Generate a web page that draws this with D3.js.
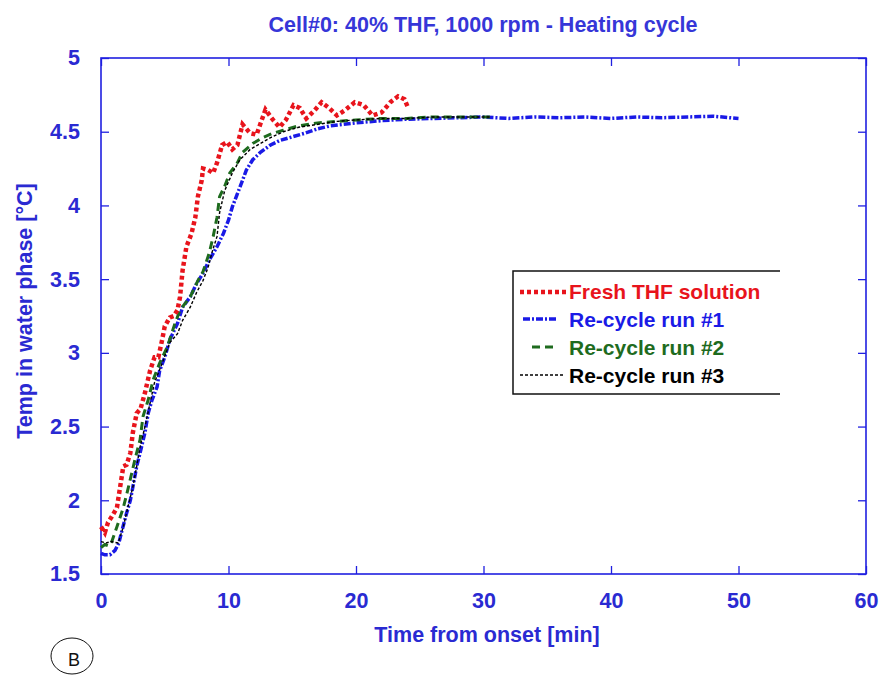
<!DOCTYPE html>
<html>
<head>
<meta charset="utf-8">
<script src="https://cdn.jsdelivr.net/npm/d3@7"></script>
<style>
    body { margin: 0; background: #ffffff; }
    svg { display: block; font-family: "Liberation Sans", Arial, sans-serif; }
</style>
</head>
<body>
<svg id="svg" width="881" height="675"></svg>
<script>
//Data
const TITLE = "Cell#0: 40% THF, 1000 rpm - Heating cycle";
const X_LABEL = "Time from onset [min]";
const Y_LABEL = "Temp in water phase [°C]";
const X_TICKS = [0, 10, 20, 30, 40, 50, 60];
const Y_TICKS = [1.5, 2, 2.5, 3, 3.5, 4, 4.5, 5];
const SERIES_NAMES = ["Fresh THF solution", "Re-cycle run #1", "Re-cycle run #2", "Re-cycle run #3"];

const FRESH_T = [0, 0.3, 0.55, 0.85, 1.25, 1.5, 1.75, 2.0, 2.3, 2.5, 2.8, 3.1, 3.45, 3.85, 4.2, 4.5, 4.8, 5.0, 5.4, 5.7, 6.0, 6.2, 6.4, 6.7, 7.1, 7.4, 7.6, 7.9, 8.0, 8.4, 8.8, 9.1, 9.5, 9.9, 10.3, 10.7, 11.1, 11.7, 12.2, 12.9, 13.4, 14.0, 14.5, 15.1, 15.6, 16.1, 16.7, 17.3, 17.9, 18.5, 19.2, 19.9, 20.6, 21.3, 22.0, 22.7, 23.3, 23.8, 24.1];
const FRESH_V = [1.82, 1.78, 1.85, 1.89, 1.95, 2.09, 2.23, 2.24, 2.32, 2.46, 2.59, 2.62, 2.73, 2.88, 2.97, 2.97, 3.09, 3.18, 3.24, 3.25, 3.29, 3.38, 3.56, 3.72, 3.81, 3.92, 4.06, 4.17, 4.25, 4.24, 4.22, 4.29, 4.41, 4.43, 4.38, 4.41, 4.55, 4.49, 4.48, 4.65, 4.59, 4.53, 4.58, 4.68, 4.66, 4.59, 4.64, 4.70, 4.66, 4.61, 4.65, 4.70, 4.68, 4.61, 4.63, 4.70, 4.74, 4.72, 4.66];

const RUN1_T = [0, 0.3, 0.7, 1.1, 1.4, 1.6, 2.0, 2.3, 2.5, 2.8, 3.06, 3.45, 3.7, 4.0, 4.4, 4.6, 5.0, 5.4, 6.0, 6.4, 7.0, 7.5, 8.0, 8.5, 9.1, 9.6, 10.0, 10.3, 10.7, 11.1, 11.4, 11.9, 12.5, 13.3, 14.0, 14.8, 16, 17, 18, 19, 20, 22, 24, 26, 28, 30, 32, 34, 36, 38, 40, 42, 44, 46, 48, 50];
const RUN1_V = [1.64, 1.63, 1.63, 1.66, 1.71, 1.78, 1.91, 2.0, 2.09, 2.23, 2.32, 2.46, 2.59, 2.68, 2.77, 2.88, 2.97, 3.09, 3.2, 3.31, 3.38, 3.47, 3.54, 3.63, 3.72, 3.81, 3.9, 3.99, 4.08, 4.17, 4.24, 4.31, 4.36, 4.41, 4.44, 4.46, 4.49, 4.52, 4.54, 4.55, 4.56, 4.575, 4.585, 4.59, 4.595, 4.60, 4.59, 4.60, 4.595, 4.60, 4.59, 4.60, 4.595, 4.60, 4.605, 4.59];

const RUN2_T = [0, 0.3, 0.6, 0.85, 1.25, 1.75, 2.1, 2.4, 2.7, 3.06, 3.3, 3.7, 4.1, 4.6, 5.2, 5.8, 6.2, 7.0, 7.6, 8.0, 8.5, 8.8, 9.1, 9.3, 9.7, 10.1, 10.7, 11.1, 11.9, 12.7, 13.5, 14.3, 15.5, 17, 18.5, 20, 22, 24, 26, 28, 30.5];
const RUN2_V = [1.68, 1.70, 1.69, 1.72, 1.82, 1.95, 2.07, 2.18, 2.29, 2.41, 2.57, 2.68, 2.82, 2.93, 3.04, 3.2, 3.29, 3.38, 3.49, 3.55, 3.68, 3.79, 3.92, 4.06, 4.13, 4.22, 4.29, 4.36, 4.42, 4.46, 4.49, 4.51, 4.54, 4.56, 4.57, 4.58, 4.59, 4.59, 4.60, 4.60, 4.60];

const RUN3_T = [0, 0.4, 0.8, 1.35, 1.75, 2.1, 2.5, 2.8, 3.06, 3.45, 3.85, 4.2, 4.8, 5.4, 6.0, 6.4, 7.0, 7.5, 8.0, 8.4, 8.7, 9.1, 9.3, 9.7, 10.3, 10.9, 11.7, 12.5, 13.3, 14.3, 15.5, 17, 18.5, 20, 22, 24, 26, 28, 30.5];
const RUN3_V = [1.72, 1.71, 1.72, 1.71, 1.82, 1.95, 2.09, 2.23, 2.36, 2.5, 2.66, 2.8, 2.93, 3.07, 3.13, 3.22, 3.31, 3.41, 3.49, 3.58, 3.68, 3.79, 3.95, 4.1, 4.22, 4.31, 4.38, 4.42, 4.46, 4.50, 4.53, 4.55, 4.57, 4.58, 4.59, 4.59, 4.60, 4.60, 4.60];

//Layout and Styles
const PLOT_LEFT = 101;
const PLOT_RIGHT = 866;
const PLOT_TOP = 58;
const PLOT_BOTTOM = 574;
const FONT_SIZE = 21.5;
const AXIS_COLOR = "#2020e0";
const TEXT_COLOR = "#2a2ad2";
const STYLES = [
    { color: "#e8141c", width: 4.5, dash: "4,3", text: "#e8141c" },
    { color: "#1a1ae6", width: 3.5, dash: "7,2,2,2", text: "#1a1ae6" },
    { color: "#1e6b1e", width: 3, dash: "8,5", text: "#1e6b1e" },
    { color: "#000000", width: 1.4, dash: "3,2", text: "#000000" }
];

const SVG = d3.select("#svg");

window.addEventListener("load", main);

function main()
{
    let series = [
        FRESH_T.map((t, i) => ({ t: t, v: FRESH_V[i] })),
        RUN1_T.map((t, i) => ({ t: t, v: RUN1_V[i] })),
        RUN2_T.map((t, i) => ({ t: t, v: RUN2_V[i] })),
        RUN3_T.map((t, i) => ({ t: t, v: RUN3_V[i] }))
    ];

    let x_scale = d3.scaleLinear().domain([0, 60]).range([PLOT_LEFT, PLOT_RIGHT]);
    let y_scale = d3.scaleLinear().domain([1.5, 5]).range([PLOT_BOTTOM, PLOT_TOP]);

    //Title
    SVG.append("text")
        .attr("x", 483)
        .attr("y", 32)
        .attr("text-anchor", "middle")
        .attr("font-size", FONT_SIZE)
        .attr("font-weight", "bold")
        .attr("fill", "#3636d8")
        .text(TITLE);

    //Axes (ticks point inwards on all four sides)
    let bottom = SVG.append("g")
        .attr("transform", "translate(0," + PLOT_BOTTOM + ")")
        .call(d3.axisBottom(x_scale).tickValues(X_TICKS).tickSizeInner(-8).tickSizeOuter(0).tickPadding(19));
    let top = SVG.append("g")
        .attr("transform", "translate(0," + PLOT_TOP + ")")
        .call(d3.axisTop(x_scale).tickValues(X_TICKS).tickSizeInner(-8).tickSizeOuter(0).tickFormat(""));
    let left = SVG.append("g")
        .attr("transform", "translate(" + PLOT_LEFT + ",0)")
        .call(d3.axisLeft(y_scale).tickValues(Y_TICKS).tickSizeInner(-8).tickSizeOuter(0).tickPadding(21).tickFormat(d3.format("~g")));
    let right = SVG.append("g")
        .attr("transform", "translate(" + PLOT_RIGHT + ",0)")
        .call(d3.axisRight(y_scale).tickValues(Y_TICKS).tickSizeInner(-8).tickSizeOuter(0).tickFormat(""));

    [bottom, top, left, right].forEach(function (axis) {
        axis.select(".domain").remove();
        axis.selectAll(".tick line").attr("stroke", AXIS_COLOR).attr("stroke-width", 1.3);
        axis.selectAll(".tick text")
            .attr("fill", TEXT_COLOR)
            .attr("font-size", FONT_SIZE)
            .attr("font-weight", "bold")
            .attr("font-family", "Liberation Sans, Arial, sans-serif");
    });

    //Frame
    SVG.append("rect")
        .attr("x", PLOT_LEFT)
        .attr("y", PLOT_TOP)
        .attr("width", PLOT_RIGHT - PLOT_LEFT)
        .attr("height", PLOT_BOTTOM - PLOT_TOP)
        .attr("fill", "none")
        .attr("stroke", AXIS_COLOR)
        .attr("stroke-width", 1.6);

    //Axis Labels
    SVG.append("text")
        .attr("x", 487)
        .attr("y", 642)
        .attr("text-anchor", "middle")
        .attr("font-size", FONT_SIZE)
        .attr("font-weight", "bold")
        .attr("fill", TEXT_COLOR)
        .text(X_LABEL);

    SVG.append("text")
        .attr("transform", "translate(32,311) rotate(-90)")
        .attr("text-anchor", "middle")
        .attr("font-size", FONT_SIZE)
        .attr("font-weight", "bold")
        .attr("fill", TEXT_COLOR)
        .text(Y_LABEL);

    //Draw Curves (blue first, red on top)
    let line = d3.line()
        .x(function (d) { return x_scale(d.t); })
        .y(function (d) { return y_scale(d.v); });

    [1, 2, 3, 0].forEach(function (i) {
        SVG.append("path")
            .datum(series[i])
            .attr("d", line)
            .attr("fill", "none")
            .attr("stroke", STYLES[i].color)
            .attr("stroke-width", STYLES[i].width)
            .attr("stroke-dasharray", STYLES[i].dash);
    });

    //Legend
    let legend = SVG.append("g");
    legend.append("path")
        .attr("d", "M780,271 H513 V394 H780")
        .attr("fill", "none")
        .attr("stroke", "#111111")
        .attr("stroke-width", 1.5);

    const LEGEND_LINE_Y = [292, 319, 347, 375];
    const LEGEND_TEXT_Y = [299, 327, 355, 383];
    const LEGEND_X0 = [520, 523, 532, 520];
    const LEGEND_X1 = [567, 558, 558, 565];
    SERIES_NAMES.forEach(function (name, i) {
        legend.append("line")
            .attr("x1", LEGEND_X0[i])
            .attr("x2", LEGEND_X1[i])
            .attr("y1", LEGEND_LINE_Y[i])
            .attr("y2", LEGEND_LINE_Y[i])
            .attr("stroke", STYLES[i].color)
            .attr("stroke-width", STYLES[i].width)
            .attr("stroke-dasharray", STYLES[i].dash);
        legend.append("text")
            .attr("x", 569)
            .attr("y", LEGEND_TEXT_Y[i])
            .attr("font-size", 21)
            .attr("font-weight", "bold")
            .attr("fill", STYLES[i].text)
            .text(name);
    });

    //Panel Marker
    SVG.append("ellipse")
        .attr("cx", 72)
        .attr("cy", 656)
        .attr("rx", 21)
        .attr("ry", 18)
        .attr("fill", "none")
        .attr("stroke", "#111111")
        .attr("stroke-width", 1);
    SVG.append("text")
        .attr("x", 74)
        .attr("y", 666)
        .attr("text-anchor", "middle")
        .attr("font-size", 18)
        .attr("fill", "#111111")
        .text("B");
}
</script>
</body>
</html>
